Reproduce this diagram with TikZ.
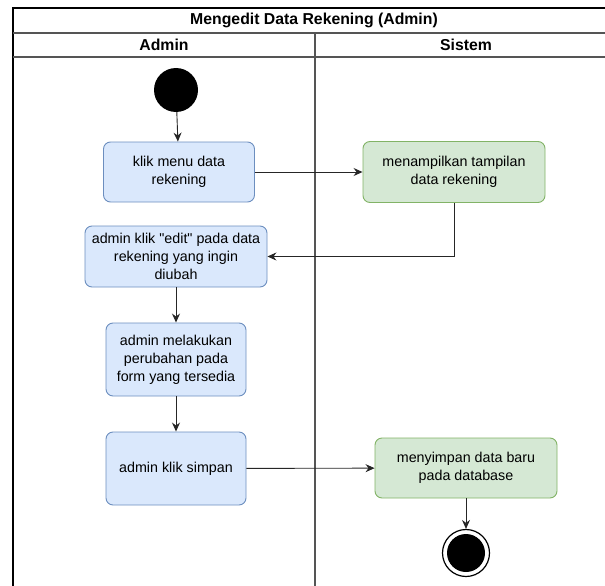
\documentclass[tikz,border=0pt]{standalone}
\usepackage{fontspec}
\setmainfont{Liberation Sans}
\usetikzlibrary{arrows.meta}
\definecolor{actfill}{HTML}{DAE8FC}
\definecolor{actline}{HTML}{6C8EBF}
\definecolor{sysfill}{HTML}{D5E8D4}
\definecolor{sysline}{HTML}{82B366}
\definecolor{laneline}{HTML}{555555}
\begin{document}
\begin{tikzpicture}[x=1pt,y=-1pt,
  act/.style={draw=actline,fill=actfill,rounded corners=7pt,line width=0.9pt,
    align=center,inner sep=0pt,font=\fontsize{14.3}{18}\selectfont},
  sys/.style={act,draw=sysline,fill=sysfill},
  flow/.style={line width=0.9pt,draw=black!85,-{Stealth[length=9pt,width=8pt,inset=3pt]}},
  hdr/.style={font=\bfseries\fontsize{15.8}{18}\selectfont}]
\useasboundingbox (0,0) rectangle (605,586);
\begin{scope}
\clip (0,0) rectangle (605,586);
% swimlane frame and lane separators
\draw[line width=1.6pt] (13,600) -- (13,8) -- (640,8);
\draw[laneline,line width=1.2pt] (13,33) -- (640,33);
\draw[laneline,line width=1.2pt] (13,57) -- (640,57);
\draw[laneline,line width=1.4pt] (315,33) -- (315,600);
\end{scope}
\node[hdr] (title) at (314,20.5) {Mengedit Data Rekening (Admin)};
\node[hdr] (laneA) at (164,45) {Admin};
\node[hdr] (laneS) at (466,45) {Sistem};

% initial and final states
\node[circle,fill=black,minimum size=44pt,inner sep=0pt] (start) at (176,90) {};
\node[circle,draw=black,line width=1.2pt,fill=white,minimum size=47pt,inner sep=0pt] (end) at (466,553) {};
\node[circle,fill=black,minimum size=38pt,inner sep=0pt] (endin) at (466,553) {};

% actions
\node[act,minimum width=151pt,minimum height=60pt] (a1) at (179,172) {klik menu data\\rekening};
\node[act,minimum width=182pt,minimum height=61pt] (a2) at (176,256.5) {admin klik \textquotedbl edit\textquotedbl{} pada data\\rekening yang ingin\\diubah};
\node[act,minimum width=140pt,minimum height=73pt] (a3) at (176,359.5) {admin melakukan\\perubahan pada\\form yang tersedia};
\node[act,minimum width=140pt,minimum height=73pt] (a4) at (176,468.5) {admin klik simpan};
\node[sys,minimum width=182pt,minimum height=61pt] (s1) at (454,172) {menampilkan tampilan\\data rekening};
\node[sys,minimum width=182pt,minimum height=60pt] (s2) at (466,468) {menyimpan data baru\\pada database};

% control flow
\draw[flow] (start) -- (a1);
\draw[flow] (a1) -- (s1);
\draw[flow] (s1.south) |- (a2.east);
\draw[flow] (a2) -- (a3);
\draw[flow] (a3) -- (a4);
\draw[flow] (a4) -- (s2);
\draw[flow] (s2) -- (end);
\end{tikzpicture}
\end{document}
